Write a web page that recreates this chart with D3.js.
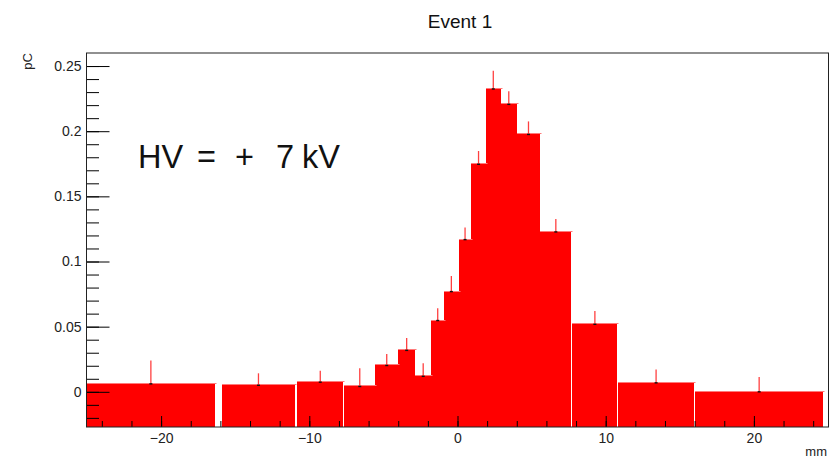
<!DOCTYPE html>
<html>
<head>
<meta charset="utf-8">
<script src="https://cdn.jsdelivr.net/npm/d3@7"></script>
<style>
  body { margin: 0; background: #fff; }
  svg { display: block; font-family: "Liberation Sans", Arial, Helvetica, sans-serif; }
</style>
</head>
<body>
<div id="chart"></div>
<script>
// bin edges in mm (some strips leave small gaps), charge per strip in pC
const binLo = [-25, -15.88, -10.8, -7.63, -5.56, -3.99, -2.87, -1.76, -0.91, 0.08, 0.94, 1.9, 2.93, 3.99, 5.59, 7.75, 10.85, 16.05];
const binHi = [-16.38, -10.98, -7.72, -5.56, -3.99, -2.87, -1.76, -0.91, 0.08, 0.94, 1.9, 2.93, 3.99, 5.59, 7.68, 10.79, 15.95, 24.66];
const charge = [0.0061, 0.005, 0.0074, 0.0041, 0.0202, 0.0318, 0.0119, 0.0547, 0.0769, 0.1168, 0.1746, 0.2324, 0.2206, 0.1975, 0.1227, 0.0518, 0.0069, 0.0];
const chargeErr = [0.0179, 0.0092, 0.0087, 0.014, 0.0088, 0.0095, 0.01, 0.0095, 0.012, 0.0092, 0.0102, 0.014, 0.01, 0.01, 0.01, 0.0102, 0.0102, 0.0113];

const xMajor = [-20, -10, 0, 10, 20];
const xMinor = d3.range(-24, 25, 2);
const yMajor = [0, 0.05, 0.1, 0.15, 0.2, 0.25];
const yMinor = d3.range(-2, 26).map(d => d / 100);

const W = 829, H = 458;
const frame = {left: 86.5, right: 828.5, top: 53, bottom: 427};
const fillRed = "#ff0000";

const svg = d3.select("#chart")
              .append("svg")
              .attr("width", W)
              .attr("height", H);

const x = d3.scaleLinear().domain([-25, 25]).range([87, 828]);
const y = d3.scaleLinear().domain([-0.027, 0.26]).range([frame.bottom, frame.top]);

const bins = charge.map((v, i) => ({lo: binLo[i], hi: binHi[i], v: v, e: chargeErr[i]}));

// Bars (ROOT fills from the bottom of the frame)
svg.append("g")
   .attr("shape-rendering", "crispEdges")
   .selectAll("rect")
   .data(bins)
   .join("rect")
   .attr("x", d => Math.round(x(d.lo)))
   .attr("y", d => Math.round(y(d.v)))
   .attr("width", d => Math.round(x(d.hi)) - Math.round(x(d.lo)))
   .attr("height", d => frame.bottom - Math.round(y(d.v)))
   .attr("fill", fillRed);

// light top edge of each bin
svg.append("g")
   .selectAll("line")
   .data(bins)
   .join("line")
   .attr("x1", d => Math.round(x(d.lo)))
   .attr("x2", d => Math.round(x(d.hi)) + 1.5)
   .attr("y1", d => Math.round(y(d.v)) - 0.5)
   .attr("y2", d => Math.round(y(d.v)) - 0.5)
   .attr("stroke", "#ff7a7a")
   .attr("stroke-width", 1);

// Error bars
const errG = svg.append("g");
errG.selectAll("line")
    .data(bins)
    .join("line")
    .attr("x1", d => x((d.lo + d.hi) / 2))
    .attr("x2", d => x((d.lo + d.hi) / 2))
    .attr("y1", d => y(d.v))
    .attr("y2", d => y(d.v + d.e))
    .attr("stroke", "#ff4040")
    .attr("stroke-width", 1.3);

errG.selectAll("rect")
    .data(bins)
    .join("rect")
    .attr("x", d => x((d.lo + d.hi) / 2) - 1.5)
    .attr("y", d => y(d.v) - 0.7)
    .attr("width", 3)
    .attr("height", 1.4)
    .attr("fill", "#111");

// Axes
const fontSize = "14px";
const labelColor = "#222";

svg.append("g")
   .attr("transform", `translate(0, ${frame.bottom})`)
   .call(d3.axisBottom(x).tickValues(xMinor).tickSize(-6).tickFormat(""))
   .call(g => {
       g.select(".domain").remove();
       g.selectAll("line").attr("stroke", "#000");
   });

svg.append("g")
   .attr("transform", `translate(0, ${frame.bottom})`)
   .call(d3.axisBottom(x).tickValues(xMajor).tickSize(-11).tickPadding(6))
   .style("font-size", fontSize)
   .style("font-family", null)
   .call(g => {
       g.select(".domain").remove();
       g.selectAll("line").attr("stroke", "#000");
       g.selectAll("text").attr("fill", labelColor);
   });

svg.append("g")
   .attr("transform", `translate(${frame.left}, 0)`)
   .call(d3.axisLeft(y).tickValues(yMinor).tickSize(-12.5).tickFormat(""))
   .call(g => {
       g.select(".domain").remove();
       g.selectAll("line").attr("stroke", "#000");
   });

svg.append("g")
   .attr("transform", `translate(${frame.left}, 0)`)
   .call(d3.axisLeft(y).tickValues(yMajor).tickSize(-23).tickPadding(5).tickFormat(d => d === 0 ? "0" : String(d)))
   .style("font-size", fontSize)
   .style("font-family", null)
   .call(g => {
       g.select(".domain").remove();
       g.selectAll("line").attr("stroke", "#000");
       g.selectAll("text").attr("fill", labelColor);
   });

// Frame
svg.append("rect")
   .attr("x", frame.left)
   .attr("y", frame.top)
   .attr("width", frame.right - frame.left)
   .attr("height", frame.bottom - frame.top)
   .attr("fill", "none")
   .attr("stroke", "#222")
   .attr("stroke-width", 1);

// Titles
svg.append("text")
   .attr("x", 460)
   .attr("y", 28)
   .attr("text-anchor", "middle")
   .style("font-size", "19px")
   .attr("fill", "#111")
   .text("Event 1");

svg.append("text")
   .attr("transform", `translate(32, ${frame.top}) rotate(-90)`)
   .attr("text-anchor", "end")
   .style("font-size", "13px")
   .attr("fill", labelColor)
   .text("pC");

svg.append("text")
   .attr("x", 827)
   .attr("y", 456)
   .attr("text-anchor", "end")
   .style("font-size", "13px")
   .attr("fill", labelColor)
   .text("mm");

// Annotation
const hv = svg.append("text")
              .attr("y", 168)
              .style("font-size", "32.5px")
              .attr("fill", "#111");
[["HV", 138], ["=", 197], ["+", 235], ["7", 276], ["kV", 302]].forEach(([t, px]) => {
    hv.append("tspan").attr("x", px).text(t);
});
</script>
</body>
</html>
